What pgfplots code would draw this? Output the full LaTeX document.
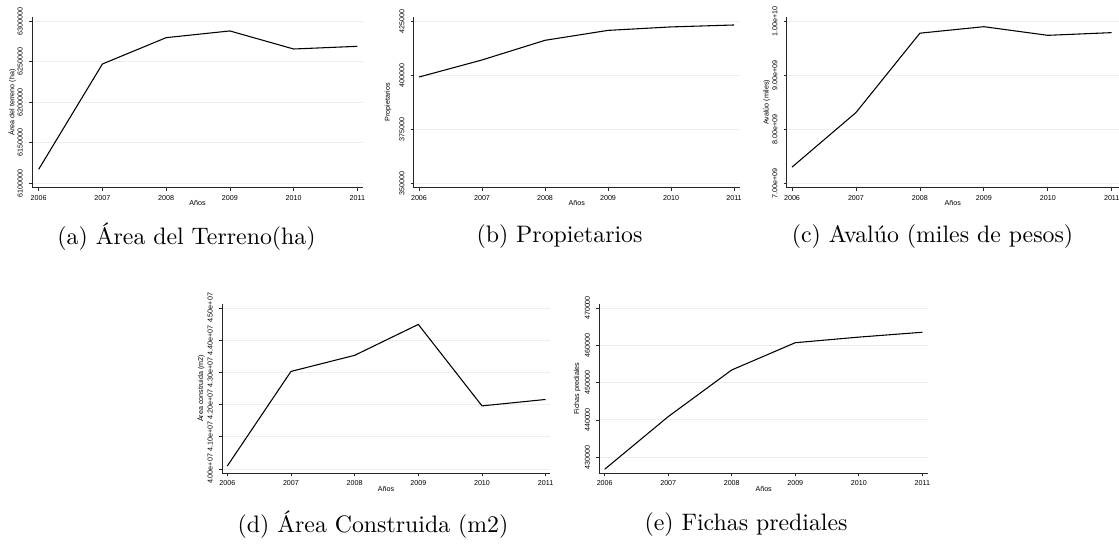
\documentclass[border=0pt]{standalone}
\usepackage{fontspec}
\usepackage{pgfplots}
\pgfplotsset{compat=1.18}
\newfontfamily\arial{Liberation Sans}
\definecolor{gridc}{RGB}{232,240,242}
\newcommand\tf{\arial\fontsize{3}{3.6}\selectfont}
\pgfplotsset{stata/.style={
  scale only axis,
  axis x line*=bottom, axis y line*=left,
  axis line style={black!85, line width=0.35pt},
  tick align=outside, major tick length=1.26pt,
  tick style={black!85, line width=0.3pt},
  ymajorgrids, grid style={gridc, line width=0.4pt},
  scaled y ticks=false, scaled x ticks=false,
  xtick={2006,2007,2008,2009,2010,2011},
  xticklabels={2006,2007,2008,2009,2010,2011},
  xticklabel style={font=\tf, anchor=center, yshift=-2.9pt},
  yticklabel style={font=\tf, xshift=-3.7pt, rotate=90, anchor=center},
  xlabel={Años},
  every axis x label/.style={at={([yshift=-6.6pt]axis description cs:0.5,0)}, anchor=center, font=\tf},
  every axis y label/.style={at={([xshift=-#1]axis description cs:0,0.5)}, anchor=center, rotate=90, font=\tf},
}}
\tikzset{serie/.style={black, line width=0.45pt, mark=none}}
\begin{document}
\begin{tikzpicture}
\useasboundingbox (0,0) rectangle (469.98pt,-229.32pt);
% (a)
\begin{axis}[stata=8.4pt, at={(13.44pt,-78.834pt)}, anchor=south west,
  width=139.02pt, height=71.694pt,
  xmin=2005.895, xmax=2011.089, ymin=6094568, ymax=6305309,
  ytick={6100000,6150000,6200000,6250000,6300000},
  yticklabels={6100000,6150000,6200000,6250000,6300000},
  ylabel={Área del terreno (ha)}]
\addplot[serie] coordinates {(2006,6117300) (2007,6247300) (2008,6279800) (2009,6288100) (2010,6265800) (2011,6269100)};
\end{axis}
% (b)
\begin{axis}[stata=10.8pt, at={(173.754pt,-78.834pt)}, anchor=south west,
  width=136.92pt, height=71.694pt,
  xmin=2005.916, xmax=2011.09, ymin=347963, ymax=426991,
  ytick={350000,375000,400000,425000},
  yticklabels={350000,375000,400000,425000},
  ylabel={Propietarios}]
\addplot[serie] coordinates {(2006,399200) (2007,407100) (2008,416200) (2009,420800) (2010,422400) (2011,423300)};
\end{axis}
% (c)
\begin{axis}[stata=8.4pt, at={(330.414pt,-78.834pt)}, anchor=south west,
  width=139.566pt, height=71.694pt,
  xmin=2005.917, xmax=2011.114, ymin=6918500000, ymax=10079600000,
  ytick={7000000000,8000000000,9000000000,10000000000},
  yticklabels={7.00e+09,8.00e+09,9.00e+09,1.00e+10},
  ylabel={Avalúo (miles)}]
\addplot[serie] coordinates {(2006,7300000000) (2007,8310000000) (2008,9780000000) (2009,9900000000) (2010,9740000000) (2011,9790000000)};
\end{axis}
% (d)
\begin{axis}[stata=8.95pt, at={(93.24pt,-198.786pt)}, anchor=south west,
  width=137.76pt, height=71.106pt,
  xmin=2005.917, xmax=2011.068, ymin=39866460, ymax=45124224,
  ytick={40000000,41000000,42000000,43000000,44000000,45000000},
  yticklabels={4.00e+07,4.10e+07,4.20e+07,4.30e+07,4.40e+07,4.50e+07},
  ylabel={Área construida (m2)}]
\addplot[serie] coordinates {(2006,40093000) (2007,43030000) (2008,43530000) (2009,44490000) (2010,41960000) (2011,42160000)};
\end{axis}
% (e)
\begin{axis}[stata=9.24pt, at={(251.706pt,-198.786pt)}, anchor=south west,
  width=138.054pt, height=71.106pt,
  xmin=2005.915, xmax=2011.09, ymin=425713, ymax=471072,
  ytick={430000,440000,450000,460000,470000},
  yticklabels={430000,440000,450000,460000,470000},
  ylabel={Fichas prediales}]
\addplot[serie] coordinates {(2006,426800) (2007,440900) (2008,453400) (2009,460700) (2010,462200) (2011,463500)};
\end{axis}
\node[anchor=center] at (78.33pt,-99.54pt) {(a) Área del Terreno(ha)};
\node[anchor=center] at (234.99pt,-99.54pt) {(b) Propietarios};
\node[anchor=center] at (391.65pt,-99.54pt) {(c) Avalúo (miles de pesos)};
\node[anchor=center] at (156.66pt,-220.5pt) {(d) Área Construida (m2)};
\node[anchor=center] at (313.32pt,-220.5pt) {(e) Fichas prediales};
\end{tikzpicture}
\end{document}
